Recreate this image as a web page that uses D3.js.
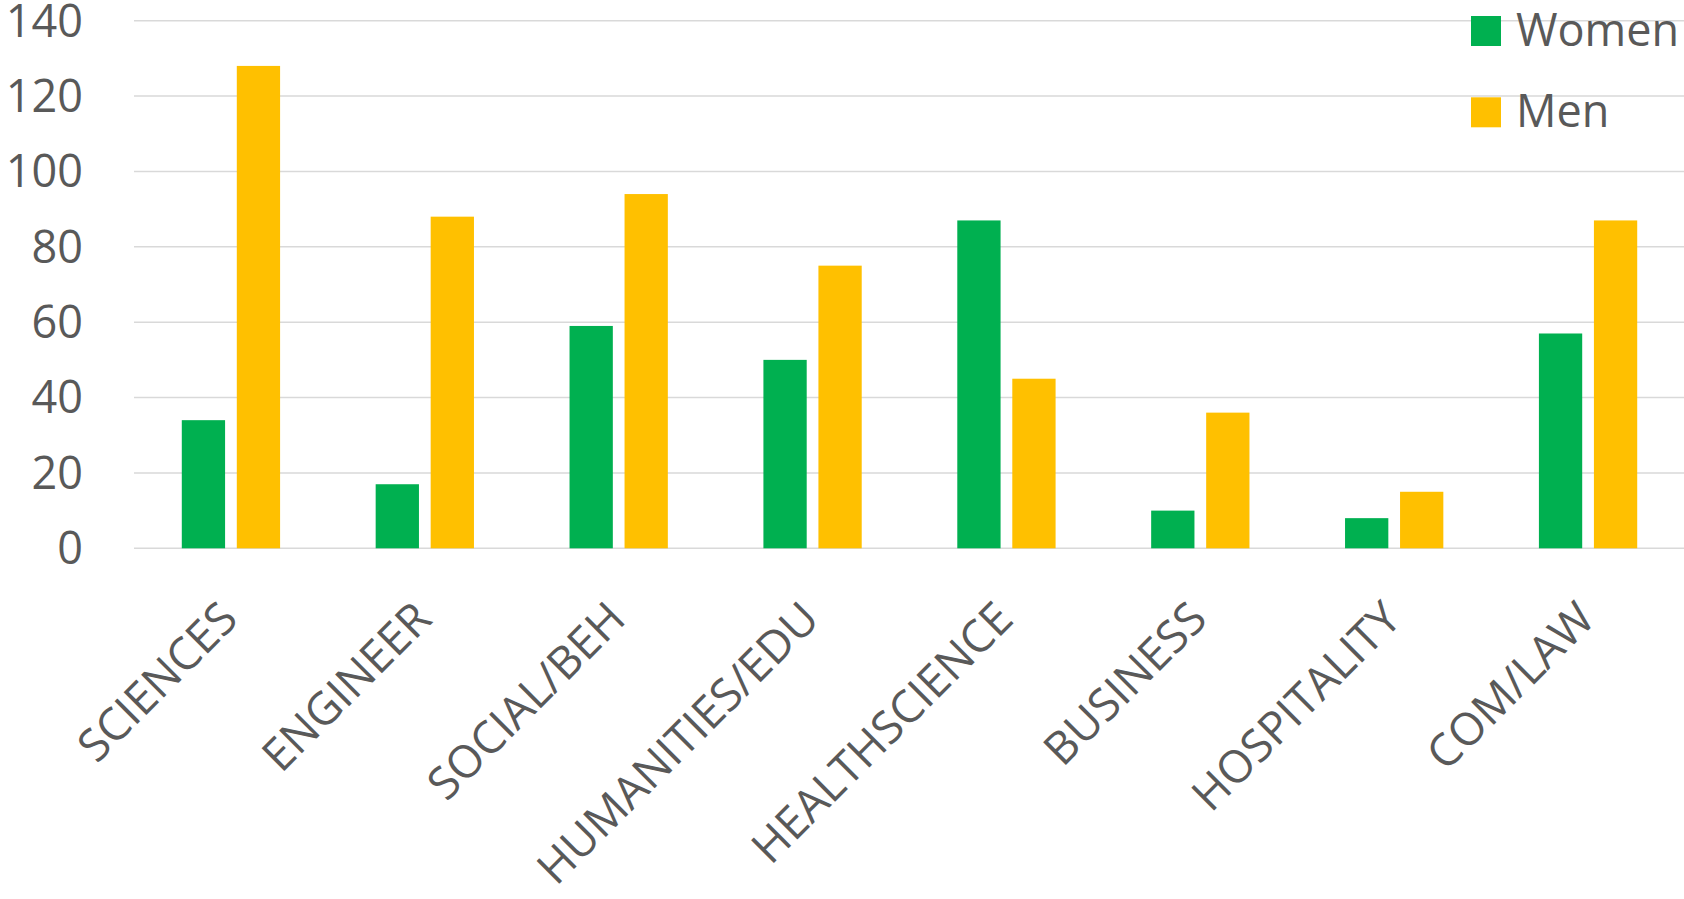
<!DOCTYPE html>
<html>
<head>
<meta charset="utf-8">
<script src="https://cdn.jsdelivr.net/npm/d3@7"></script>
<style>
  html, body { margin: 0; padding: 0; background: #fff; }
  svg { display: block; }
  text { font-family: "Open Sans", sans-serif; fill: #595959; }
</style>
</head>
<body>
<svg id="chart" width="1684" height="899"></svg>
<script>
const categories = ["SCIENCES", "ENGINEER", "SOCIAL/BEH", "HUMANITIES/EDU", "HEALTHSCIENCE", "BUSINESS", "HOSPITALITY", "COM/LAW"];
const seriesNames = ["Women", "Men"];
const women = [34, 17, 59, 50, 87, 10, 8, 57];
const men = [128, 88, 94, 75, 45, 36, 15, 87];
const yTicks = [0, 20, 40, 60, 80, 100, 120, 140];
const colors = ["#00B050", "#FFC000"];

const svg = d3.select("#chart");
const plotLeft = 134, plotRight = 1685, plotTop = 20.7, plotBottom = 548.3;

const x0 = d3.scaleBand().domain(categories).range([plotLeft, plotRight]).padding(0);
const bw = x0.bandwidth();
const x1 = d3.scaleBand().domain(seriesNames).range([bw * 0.2465, bw * 0.7535]).paddingInner(0.213);
const y = d3.scaleLinear().domain([0, 140]).range([plotBottom, plotTop]);

// gridlines
svg.append("g")
  .selectAll("line")
  .data(yTicks)
  .join("line")
  .attr("x1", plotLeft).attr("x2", plotRight)
  .attr("y1", d => y(d)).attr("y2", d => y(d))
  .attr("stroke", "#d9d9d9").attr("stroke-width", 1.4);

// y axis labels
const yAxis = d3.axisLeft(y).tickValues(yTicks).tickSize(0).tickPadding(0);
const gy = svg.append("g").attr("transform", "translate(83,0)").call(yAxis);
gy.select(".domain").remove();
gy.selectAll("text")
  .attr("font-family", "Open Sans, sans-serif")
  .attr("font-size", 45)
  .attr("fill", "#595959")
  .attr("dy", "0.34em");

// bars
const data = categories.map((c, i) => ({ cat: c, values: [women[i], men[i]] }));
const groups = svg.append("g").selectAll("g")
  .data(data).join("g")
  .attr("transform", d => `translate(${x0(d.cat)},0)`);
groups.selectAll("rect")
  .data(d => d.values.map((v, j) => ({ key: seriesNames[j], v, j })))
  .join("rect")
  .attr("x", d => x1(d.key))
  .attr("width", x1.bandwidth())
  .attr("y", d => y(d.v))
  .attr("height", d => y(0) - y(d.v))
  .attr("fill", d => colors[d.j]);

// x axis labels
const xAxis = d3.axisBottom(x0).tickSize(0).tickPadding(0);
const gx = svg.append("g").attr("transform", `translate(0,${plotBottom})`).call(xAxis);
gx.select(".domain").remove();
gx.selectAll("text")
  .attr("font-family", "Open Sans, sans-serif")
  .attr("font-size", 45)
  .attr("fill", "#595959")
  .attr("text-anchor", "end")
  .attr("dy", 0)
  .attr("y", 0)
  .attr("transform", "translate(9,73) rotate(-45)");

// legend
const legend = svg.append("g");
const ly = [16, 97.3];
seriesNames.forEach((s, i) => {
  legend.append("rect")
    .attr("x", 1471).attr("y", ly[i])
    .attr("width", 30).attr("height", 30)
    .attr("fill", colors[i]);
  legend.append("text")
    .attr("x", 1516).attr("y", ly[i] + 30)
    .attr("font-size", 45)
    .text(s);
});
</script>
</body>
</html>
